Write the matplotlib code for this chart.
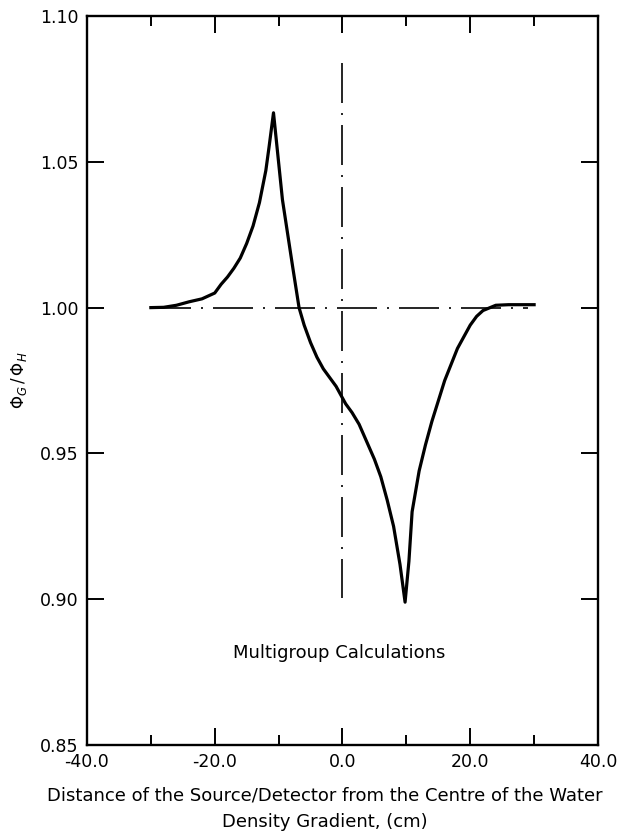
import numpy as np
import matplotlib.pyplot as plt
from matplotlib.ticker import MultipleLocator, FormatStrFormatter

# flux ratio phi_G / phi_H along the traverse (multigroup calculation)
pos_cm = [-30, -28, -26, -24, -22, -20, -19, -18, -17, -16, -15, -14,
          -13, -12, -11.5, -10.8,
          -9.4, -7.8, -6.8, -6, -5, -4, -3, -2, -1, 0.0,
          0.5, 1.5, 2.6, 4, 5, 6, 7, 8, 9, 9.8,
          10.4, 10.9, 12, 13, 14, 16, 18, 20, 21, 22, 24, 26, 30]
ratio = [1.000, 1.0001, 1.0008, 1.002, 1.003, 1.005, 1.008, 1.0105, 1.0135,
         1.017, 1.022, 1.028, 1.036, 1.047, 1.055, 1.0668,
         1.037, 1.014, 1.000, 0.994, 0.988, 0.983, 0.979, 0.976, 0.973, 0.969,
         0.967, 0.964, 0.960, 0.953, 0.948, 0.942, 0.934, 0.925, 0.912, 0.899,
         0.913, 0.930, 0.944, 0.953, 0.961, 0.975, 0.986, 0.994, 0.997, 0.999,
         1.0008, 1.001, 1.001]

# reference lines: unity ratio and the centre of the gradient
unity_x = [-30, 29]
unity_y = [1.0, 1.0]
centre_x = [0.0, 0.0]
centre_y = [1.084, 0.9005]

fig = plt.figure(figsize=(6.24, 8.4), dpi=100)
ax = fig.add_axes([0.1394, 0.113, 0.8189, 0.868])

dashdot = (0, (24, 6, 1.2, 6))
ax.plot(unity_x, unity_y, color='black', lw=1.2, linestyle=dashdot)
ax.plot(centre_x, centre_y, color='black', lw=1.2, linestyle=dashdot)
ax.plot(pos_cm, ratio, color='black', lw=2.3, solid_joinstyle='round')

ax.set_xlim(-40, 40)
ax.set_ylim(0.85, 1.10)
ax.xaxis.set_major_locator(MultipleLocator(20))
ax.xaxis.set_minor_locator(MultipleLocator(10))
ax.yaxis.set_major_locator(MultipleLocator(0.05))
ax.xaxis.set_major_formatter(FormatStrFormatter('%.1f'))
ax.yaxis.set_major_formatter(FormatStrFormatter('%.2f'))

ax.tick_params(which='both', direction='in', top=True, right=True,
               width=1.4, labelsize=12.5, pad=6)
ax.tick_params(which='major', length=12)
ax.tick_params(which='minor', length=7)
for s in ax.spines.values():
    s.set_linewidth(1.7)

ax.text(-0.5, 0.8815, 'Multigroup Calculations', ha='center', va='center',
        fontsize=13)

ax.set_ylabel(r'$\Phi_G\,/\,\Phi_H$', fontsize=12, labelpad=8)
fig.text(325 / 624, 1 - 795 / 840,
         'Distance of the Source/Detector from the Centre of the Water',
         ha='center', va='center', fontsize=13)
fig.text(325 / 624, 1 - 822 / 840, 'Density Gradient, (cm)',
         ha='center', va='center', fontsize=13)

fig.savefig('out.png', dpi=100)
